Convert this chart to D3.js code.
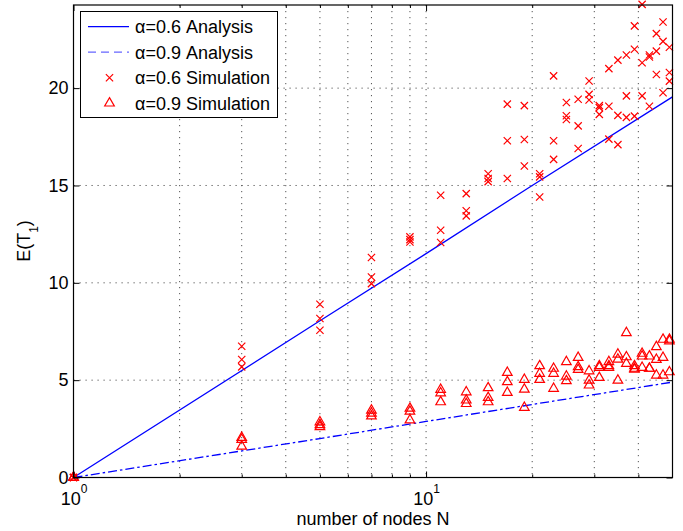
<!DOCTYPE html>
<html>
<head>
<meta charset="utf-8">
<script src="https://cdn.jsdelivr.net/npm/d3@7"></script>
<style>
  body { margin: 0; background: #fff; }
  svg { display: block; font-family: "Liberation Sans", Arial, sans-serif; }
</style>
</head>
<body>
<svg id="chart"></svg>
<script>
const width = 683;
const height = 531;
const margin = {
    top: 5,
    left: 73.5,
    bottom: 53.5,
    right: 10.5
};
const w = width - margin.left - margin.right;
const h = height - margin.top - margin.bottom;

// number of nodes where the simulation was run
const nodes = [1, 3, 5, 7, 9, 11, 13, 15, 17, 19, 21, 23, 25, 27, 29, 31, 33, 35, 37, 39, 41, 43, 45, 47, 49];

// alpha = 0.6 simulation, three runs per N
const sim06 = [
    [0, 0, 0],
    [6.74, 6.06, 5.68],
    [8.9, 8.17, 7.56],
    [11.3, 10.3, 9.96],
    [12.36, 12.22, 12.1],
    [14.5, 12.7, 12.07],
    [14.58, 13.7, 13.44],
    [15.6, 15.36, 15.2],
    [19.18, 17.3, 15.36],
    [19.1, 17.36, 16.0],
    [15.6, 15.44, 14.41],
    [20.63, 17.3, 16.34],
    [19.26, 18.58, 18.39],
    [19.43, 18.06, 16.9],
    [20.37, 19.68, 19.39],
    [19.1, 19.0, 18.65],
    [21.0, 19.07, 17.38],
    [21.44, 18.6, 17.1],
    [21.7, 19.6, 18.5],
    [23.2, 22.0, 18.56],
    [24.3, 21.3, 19.6],
    [21.7, 21.6, 19.07],
    [22.8, 21.9, 20.7],
    [23.4, 22.4, 19.76],
    [22.1, 20.8, 20.36]
];

// alpha = 0.9 simulation, three runs per N
const sim09 = [
    [0, 0, 0],
    [2.05, 1.95, 1.6],
    [2.85, 2.7, 2.6],
    [3.45, 3.3, 3.15],
    [3.55, 3.4, 2.95],
    [4.52, 4.34, 3.88],
    [4.39, 3.97, 3.79],
    [4.6, 4.1, 3.88],
    [5.39, 4.91, 4.36],
    [5.03, 4.53, 3.59],
    [5.73, 5.34, 5.03],
    [5.6, 5.34, 4.57],
    [5.94, 5.2, 4.96],
    [6.16, 5.68, 5.54],
    [5.47, 4.99, 4.74],
    [5.73, 5.65, 5.13],
    [5.94, 5.73, 5.65],
    [6.33, 6.07, 4.99],
    [7.43, 6.19, 5.85],
    [5.73, 5.6, 5.55],
    [6.37, 6.23, 5.65],
    [6.23, 5.6, 5.6],
    [6.71, 6.06, 5.25],
    [7.09, 6.16, 5.25],
    [7.09, 7.01, 5.42]
];

// analysis curves
const lineN = [1, 5, 10, 20, 50];
const ana06 = [0, 8.05, 11.5, 15.0, 19.55];
const ana09 = [0, 2.0, 2.88, 3.75, 4.9];

const xMajor = [1, 10];
const xMinor = [2, 3, 4, 5, 6, 7, 8, 9, 20, 30, 40];
const yTicks = [0, 5, 10, 15, 20];
const legendLabels = ["α=0.6 Analysis", "α=0.9 Analysis", "α=0.6 Simulation", "α=0.9 Simulation"];

const red = "#ff0000";
const blue = "#0000ff";
const dash09 = "9,3,2.5,3";

let svg = d3.select("#chart")
    .attr("width", width)
    .attr("height", height);

let g = svg.append("g")
    .attr("transform", `translate(${margin.left}, ${margin.top})`);

let x = d3.scaleLog()
    .domain([1, 50])
    .range([0, w]);

let y = d3.scaleLinear()
    .domain([0, 24.27])
    .range([h, 0]);

// dotted grid
let grid = g.append("g")
    .attr("stroke", "#555")
    .attr("stroke-width", 1)
    .attr("stroke-dasharray", "1.2,4.8");

grid.selectAll("line.v")
    .data(xMinor.concat([10]))
    .join("line")
    .attr("class", "v")
    .attr("x1", d => x(d))
    .attr("x2", d => x(d))
    .attr("y1", 0)
    .attr("y2", h);

grid.selectAll("line.h")
    .data(yTicks.filter(d => d > 0))
    .join("line")
    .attr("class", "h")
    .attr("x1", 0)
    .attr("x2", w)
    .attr("y1", d => y(d))
    .attr("y2", d => y(d));

// analysis lines
let line = d3.line()
    .x(d => x(d[0]))
    .y(d => y(d[1]));

g.append("path")
    .datum(lineN.map((n, i) => [n, ana06[i]]))
    .attr("fill", "none")
    .attr("stroke", blue)
    .attr("stroke-width", 1.3)
    .attr("d", line);

g.append("path")
    .datum(lineN.map((n, i) => [n, ana09[i]]))
    .attr("fill", "none")
    .attr("stroke", blue)
    .attr("stroke-width", 1.3)
    .attr("stroke-dasharray", dash09)
    .attr("d", line);

// simulation markers
let cross = d3.symbol(d3.symbolX, 36)();
let tri = d3.symbol(d3.symbolTriangle, 40)();

let pts06 = nodes.flatMap((n, i) => sim06[i].map(v => [n, v]));
let pts09 = nodes.flatMap((n, i) => sim09[i].map(v => [n, v]));

g.append("g").selectAll("path")
    .data(pts06)
    .join("path")
    .attr("transform", d => `translate(${x(d[0])}, ${y(d[1])})`)
    .attr("d", cross)
    .attr("fill", "none")
    .attr("stroke", red)
    .attr("stroke-width", 1.2);

g.append("g").selectAll("path")
    .data(pts09)
    .join("path")
    .attr("transform", d => `translate(${x(d[0])}, ${y(d[1])})`)
    .attr("d", tri)
    .attr("fill", "none")
    .attr("stroke", red)
    .attr("stroke-width", 1.2);

// axes, ticks pointing inwards like matlab
function clean(sel) {
    sel.select(".domain").remove();
    sel.selectAll("line").attr("stroke", "#000");
}

let xAxis = g.append("g")
    .attr("transform", `translate(0, ${h})`)
    .call(d3.axisBottom(x).tickValues(xMajor).tickSizeInner(-6).tickSizeOuter(0))
    .call(clean);

xAxis.selectAll(".tick text").each(function(d) {
    let t = d3.select(this)
        .text(null)
        .attr("y", 27.5)
        .attr("dy", null)
        .attr("fill", "#000")
        .style("font-size", "18px");
    t.append("tspan").text("10");
    t.append("tspan")
        .attr("dy", -12.3)
        .style("font-size", "12px")
        .text(Math.round(Math.log10(d)));
});

g.append("g")
    .attr("transform", `translate(0, ${h})`)
    .call(d3.axisBottom(x).tickValues(xMinor).tickSizeInner(-3).tickSizeOuter(0).tickFormat(""))
    .call(clean);

g.append("g")
    .call(d3.axisTop(x).tickValues(xMajor).tickSizeInner(-6).tickSizeOuter(0).tickFormat(""))
    .call(clean);

g.append("g")
    .call(d3.axisTop(x).tickValues(xMinor).tickSizeInner(-3).tickSizeOuter(0).tickFormat(""))
    .call(clean);

let yAxis = g.append("g")
    .call(d3.axisLeft(y).tickValues(yTicks).tickSizeInner(-6).tickSizeOuter(0).tickPadding(5))
    .call(clean);

yAxis.selectAll(".tick text")
    .attr("fill", "#000")
    .style("font-size", "18px");

g.append("g")
    .attr("transform", `translate(${w}, 0)`)
    .call(d3.axisRight(y).tickValues(yTicks).tickSizeInner(-6).tickSizeOuter(0).tickFormat(""))
    .call(clean);

// box
g.append("rect")
    .attr("width", w)
    .attr("height", h)
    .attr("fill", "none")
    .attr("stroke", "#000")
    .attr("stroke-width", 1.2);

// axis titles
svg.append("text")
    .attr("x", margin.left + w / 2)
    .attr("y", 525)
    .attr("text-anchor", "middle")
    .style("font-size", "18px")
    .text("number of nodes N");

let yLabel = svg.append("text")
    .attr("transform", "translate(30, 241) rotate(-90)")
    .attr("text-anchor", "middle")
    .style("font-size", "18px");
yLabel.append("tspan").text("E(T");
yLabel.append("tspan").attr("dy", 8).style("font-size", "12px").text("1");
yLabel.append("tspan").attr("dy", -8).text(")");

// legend
let legend = svg.append("g")
    .attr("transform", "translate(80.5, 11.5)");

legend.append("rect")
    .attr("width", 197)
    .attr("height", 106)
    .attr("fill", "#fff")
    .attr("stroke", "#000")
    .attr("stroke-width", 1);

let item = legend.selectAll("g.item")
    .data(legendLabels)
    .join("g")
    .attr("class", "item")
    .attr("transform", (d, i) => `translate(0, ${15.2 + i * 25.5})`);

item.filter((d, i) => i < 2).append("line")
    .attr("x1", 7.5)
    .attr("x2", 48.5)
    .attr("stroke", blue)
    .attr("stroke-width", 1.3)
    .attr("stroke-dasharray", (d, i) => i === 1 ? "8,5" : null)
    .attr("opacity", (d, i) => i === 1 ? 0.6 : 1);

item.filter((d, i) => i >= 2).append("path")
    .attr("transform", "translate(29, 0)")
    .attr("d", (d, i) => i === 0 ? cross : tri)
    .attr("fill", "none")
    .attr("stroke", red)
    .attr("stroke-width", 1.2);

item.append("text")
    .attr("x", 54.5)
    .attr("y", 6.5)
    .style("font-size", "18px")
    .text(d => d);
</script>
</body>
</html>
